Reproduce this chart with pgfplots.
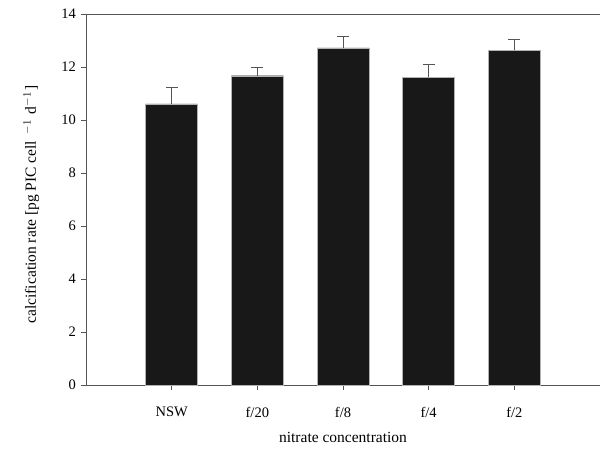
\documentclass[border=0pt]{standalone}
\usepackage{pgfplots}
\pgfplotsset{compat=1.18}
\usepackage{fontspec}
\setmainfont{Liberation Serif}
\definecolor{barfill}{HTML}{181818}
\definecolor{axgray}{HTML}{555555}
\begin{document}
\fontsize{15}{17}\selectfont
\begin{tikzpicture}
\path[use as bounding box] (-86pt,-67pt) rectangle (516pt,385pt);
\begin{axis}[
  scale only axis,
  width=514pt, height=371pt,
  xmin=-1, xmax=5,
  ymin=0, ymax=14,
  ytick={0,2,...,14},
  xtick=data,
  xticklabels={NSW,f/20,f/8,f/4,f/2},
  axis x line*=bottom,
  axis y line*=left,
  axis line style={axgray, line width=0.8pt, -},
  tick style={axgray, line width=0.8pt},
  tick align=outside,
  major tick length=5pt,
  /pgf/number format/assume math mode=true,
  ticklabel style={font=\fontsize{14.5}{16}\selectfont},
  xticklabel style={yshift=-12pt},
  label style={font=\fontsize{15.5}{17}\selectfont},
  xlabel={nitrate concentration},
  ylabel={calcification rate [pg PIC cell\hspace{0.45em}$^{-1}$\hspace{0.35em}d$^{-1}$\hspace{0.1em}]},
  xlabel style={yshift=-4pt},
  ylabel style={at={(ticklabel cs:0.487)}, yshift=12pt},
  clip=false,
]
\addplot[ybar, bar width=52pt, fill=barfill, draw=gray!60, line width=0.4pt,
  error bars/.cd, y dir=plus, y explicit,
  error bar style={axgray, line width=0.9pt},
  error mark options={rotate=90, mark size=6pt, axgray, line width=0.9pt}]
  coordinates {
  (0,10.61) +- (0,0.62)
  (1,11.67) +- (0,0.30)
  (2,12.72) +- (0,0.45)
  (3,11.62) +- (0,0.47)
  (4,12.63) +- (0,0.40)
  };
\draw[axgray, line width=0.8pt] (axis description cs:0,1) -- (axis description cs:1,1);
\end{axis}
\end{tikzpicture}
\end{document}
